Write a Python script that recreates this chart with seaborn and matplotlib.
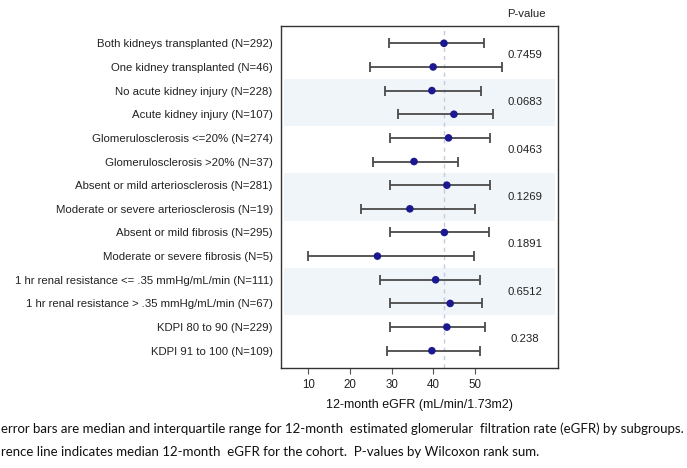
import numpy as np
import pandas as pd
import seaborn as sns
import matplotlib.pyplot as plt

labels = [
    'Both kidneys transplanted (N=292)',
    'One kidney transplanted (N=46)',
    'No acute kidney injury (N=228)',
    'Acute kidney injury (N=107)',
    'Glomerulosclerosis <=20% (N=274)',
    'Glomerulosclerosis >20% (N=37)',
    'Absent or mild arteriosclerosis (N=281)',
    'Moderate or severe arteriosclerosis (N=19)',
    'Absent or mild fibrosis (N=295)',
    'Moderate or severe fibrosis (N=5)',
    '1 hr renal resistance <= .35 mmHg/mL/min (N=111)',
    '1 hr renal resistance > .35 mmHg/mL/min (N=67)',
    'KDPI 80 to 90 (N=229)',
    'KDPI 91 to 100 (N=109)',
]
median = [42.6, 40.0, 39.7, 45.0, 43.7, 35.4, 43.3, 34.4, 42.7, 26.6, 40.6, 44.1, 43.3, 39.7]
q1 = [29.4, 24.7, 28.4, 31.5, 29.7, 25.6, 29.6, 22.7, 29.6, 10.0, 27.2, 29.7, 29.7, 28.8]
q3 = [52.3, 56.6, 51.5, 54.3, 53.6, 45.9, 53.6, 50.0, 53.4, 49.9, 51.3, 51.7, 52.5, 51.3]
p_values = ['0.7459', '0.0683', '0.0463', '0.1269', '0.1891', '0.6512', '0.238']
cohort_median = 42.6
x_ticks = [10, 20, 30, 40, 50]

# footnote lines as far as they are visible in the original image
notes = [
    'error bars are median and interquartile range for 12-month  estimated glomerular  filtration rate (eGFR) by subgroups.',
    'rence line indicates median 12-month  eGFR for the cohort.  P-values by Wilcoxon rank sum.',
]

df = pd.DataFrame({'group': labels, 'median': median, 'q1': q1, 'q3': q3})
pos = np.arange(len(df))

sns.set_style('white')
plt.rcParams['font.family'] = ['Liberation Sans', 'DejaVu Sans']

fig = plt.figure(figsize=(6.87, 4.68), dpi=100)
ax = fig.add_axes([0.409, 0.2137, 0.403, 0.7307])

# light bands behind every second pair of rows
for k in range(len(p_values)):
    if k % 2 == 1:
        ax.axhspan(2 * k - 0.5, 2 * k + 1.5, xmin=0.012, xmax=0.99,
                   color='#f0f5f9', lw=0, zorder=0)

ax.axvline(cohort_median, color='#c3cbdc', ls=(0, (3, 3)), lw=1, zorder=1)

sns.scatterplot(data=df, x='median', y='group', ax=ax, color='#1b1890',
                s=30, edgecolor='none', zorder=3, legend=False)
ax.errorbar(df['median'], pos,
            xerr=[df['median'] - df['q1'], df['q3'] - df['median']],
            fmt='none', ecolor='#4a4a4a', elinewidth=1.3, capsize=3.5,
            capthick=1.3, zorder=2)

# p-values between each pair
for k, p in enumerate(p_values):
    ax.text(62.1, 2 * k + 0.5, p, ha='center', va='center', fontsize=8.2, color='#222222')
fig.text(526.7 / 687, 0.970, 'P-value', ha='center', va='center', fontsize=8.2, color='#222222')

ax.set_xlim(3.4, 70)
ax.set_ylim(13.73, -0.73)
ax.set_xticks(x_ticks)
ax.set_xlabel('12-month eGFR (mL/min/1.73m2)', fontsize=9, labelpad=6, color='#111111')
ax.set_ylabel('')
ax.tick_params(axis='y', length=0, pad=6, labelsize=8.2, labelcolor='#222222')
ax.tick_params(axis='x', length=4, width=0.8, color='#555555', pad=4,
               labelsize=8.3, labelcolor='#222222', bottom=True)
for sp in ax.spines.values():
    sp.set_color('#333333')
    sp.set_linewidth(1)

for note, y in zip(notes, [0.084, 0.035]):
    fig.text(0.002, y, note, fontsize=9.5, family='Lato', ha='left', va='center', color='#111111')

fig.savefig('out.png', dpi=100)
